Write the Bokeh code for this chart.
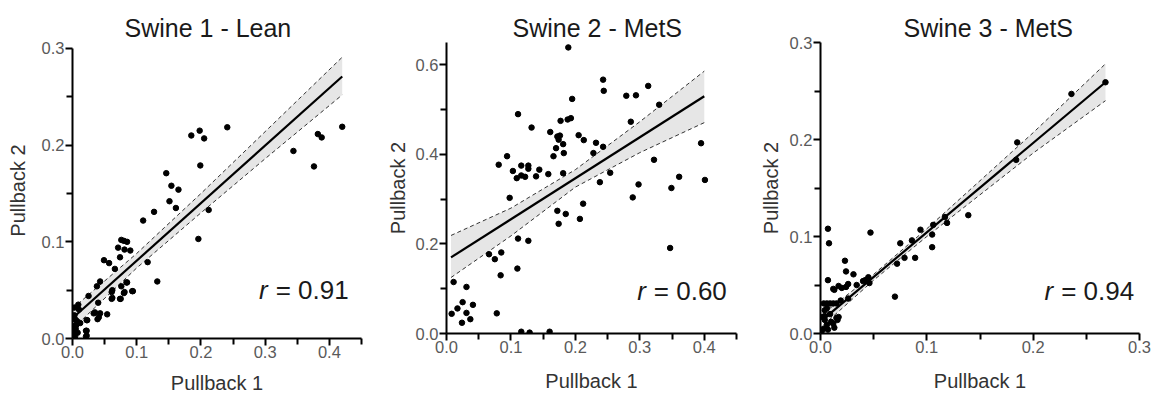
from bokeh.plotting import figure
from bokeh.layouts import row
from bokeh.models import Range1d, FixedTicker, PrintfTickFormatter, Label
from bokeh.embed import file_html
from bokeh.resources import INLINE

# ---------------- data ----------------
titles = ["Swine 1 - Lean", "Swine 2 - MetS", "Swine 3 - MetS"]
r_texts = ["= 0.91", "= 0.60", "= 0.94"]
x_label = "Pullback 1"
y_label = "Pullback 2"

s1_x = [0.420, 0.241, 0.185, 0.198, 0.205, 0.199, 0.146, 0.154, 0.165, 0.151, 0.161, 0.127,
        0.110, 0.212, 0.196, 0.344, 0.376, 0.382, 0.388, 0.132, 0.117, 0.076, 0.080, 0.085,
        0.071, 0.081, 0.090, 0.074, 0.049, 0.057, 0.066, 0.043, 0.038, 0.076, 0.084, 0.093,
        0.080, 0.061, 0.074, 0.061, 0.025, 0.040, 0.035, 0.043, 0.054, 0.041, 0.039, 0.022,
        0.009, 0.003, 0.012, 0.005, 0.008, 0.002, 0.004, 0.021, 0.021, 0.001, 0.007, 0.062,
        0.062, 0.075, 0.081, 0.094, 0.085, 0.033, 0.023, 0.022, 0.022, 0.010, 0.003, 0.006,
        0.002, 0.000, 0.004]
s1_y = [0.219, 0.2185, 0.210, 0.215, 0.207, 0.179, 0.171, 0.158, 0.154, 0.142, 0.135, 0.131,
        0.122, 0.133, 0.103, 0.194, 0.178, 0.2115, 0.208, 0.059, 0.079, 0.102, 0.101, 0.100,
        0.094, 0.092, 0.091, 0.084, 0.081, 0.078, 0.072, 0.059, 0.054, 0.054, 0.058, 0.049,
        0.047, 0.048, 0.041, 0.041, 0.044, 0.037, 0.027, 0.026, 0.025, 0.022, 0.020, 0.019,
        0.035, 0.032, 0.016, 0.010, 0.006, 0.004, 0.002, 0.008, 0.002, 0.013, 0.018, 0.050,
        0.042, 0.041, 0.048, 0.049, 0.058, 0.026, 0.019, 0.008, 0.003, 0.030, 0.024, 0.014,
        0.007, 0.011, 0.020]

s2_x = [0.189, 0.243, 0.244, 0.195, 0.279, 0.294, 0.313, 0.330, 0.111, 0.177, 0.188, 0.193,
        0.286, 0.132, 0.161, 0.205, 0.213, 0.172, 0.176, 0.174, 0.181, 0.232, 0.170, 0.182,
        0.228, 0.243, 0.166, 0.094, 0.081, 0.116, 0.127, 0.127, 0.103, 0.144, 0.109, 0.116,
        0.122, 0.139, 0.158, 0.181, 0.098, 0.322, 0.254, 0.238, 0.298, 0.361, 0.395, 0.401,
        0.349, 0.289, 0.212, 0.172, 0.185, 0.174, 0.207, 0.347, 0.111, 0.127, 0.066, 0.075,
        0.085, 0.110, 0.084, 0.011, 0.031, 0.025, 0.017, 0.008, 0.041, 0.031, 0.037, 0.024,
        0.078, 0.116, 0.129, 0.160]
s2_y = [0.639, 0.567, 0.542, 0.524, 0.531, 0.532, 0.553, 0.511, 0.490, 0.475, 0.478, 0.481,
        0.473, 0.460, 0.450, 0.443, 0.432, 0.440, 0.442, 0.433, 0.423, 0.426, 0.414, 0.403,
        0.403, 0.417, 0.396, 0.396, 0.377, 0.375, 0.375, 0.368, 0.363, 0.366, 0.347, 0.353,
        0.350, 0.351, 0.356, 0.358, 0.303, 0.388, 0.359, 0.338, 0.333, 0.350, 0.425, 0.343,
        0.325, 0.304, 0.290, 0.274, 0.267, 0.245, 0.256, 0.191, 0.212, 0.207, 0.177, 0.166,
        0.181, 0.145, 0.130, 0.115, 0.104, 0.070, 0.056, 0.044, 0.064, 0.046, 0.032, 0.024,
        0.045, 0.004, 0.002, 0.004]

s3_x = [0.268, 0.236, 0.185, 0.184, 0.139, 0.119, 0.117, 0.106, 0.105, 0.105, 0.094, 0.086,
        0.089, 0.075, 0.079, 0.072, 0.070, 0.047, 0.007, 0.008, 0.007, 0.023, 0.024, 0.031,
        0.026, 0.034, 0.040, 0.045, 0.042, 0.046, 0.013, 0.017, 0.020, 0.024, 0.012, 0.026,
        0.019, 0.003, 0.006, 0.009, 0.012, 0.015, 0.004, 0.006, 0.002, 0.004, 0.006, 0.003,
        0.001, 0.007, 0.010, 0.012, 0.015, 0.017, 0.013, 0.009, 0.004, 0.016]
s3_y = [0.259, 0.247, 0.197, 0.179, 0.122, 0.114, 0.120, 0.112, 0.102, 0.089, 0.107, 0.096,
        0.078, 0.093, 0.078, 0.072, 0.038, 0.104, 0.108, 0.093, 0.055, 0.075, 0.064, 0.061,
        0.051, 0.050, 0.054, 0.058, 0.055, 0.052, 0.045, 0.049, 0.047, 0.048, 0.046, 0.036,
        0.034, 0.031, 0.031, 0.031, 0.031, 0.031, 0.024, 0.026, 0.017, 0.014, 0.009, 0.005,
        0.002, 0.004, 0.012, 0.010, 0.016, 0.017, 0.006, 0.020, 0.018, 0.014]

# regression lines and 95% bands
s1_fit_x = [0.0, 0.42]
s1_fit_y = [0.021, 0.271]
s1_ci_x = [0.0, 0.1, 0.2, 0.3, 0.42]
s1_ci_lo = [0.010, 0.073, 0.130, 0.186, 0.252]
s1_ci_hi = [0.031, 0.088, 0.150, 0.214, 0.291]

s2_fit_x = [0.007, 0.40]
s2_fit_y = [0.170, 0.530]
s2_ci_x = [0.007, 0.1, 0.2, 0.3, 0.40]
s2_ci_lo = [0.125, 0.218, 0.327, 0.404, 0.471]
s2_ci_hi = [0.219, 0.280, 0.366, 0.473, 0.586]

s3_fit_x = [0.003, 0.268]
s3_fit_y = [0.015, 0.259]
s3_ci_x = [0.003, 0.05, 0.1, 0.2, 0.268]
s3_ci_lo = [0.009, 0.055, 0.100, 0.186, 0.240]
s3_ci_hi = [0.021, 0.061, 0.108, 0.207, 0.278]

# axis settings per panel
x_ends = [0.45, 0.45, 0.30]
y_ends = [0.3062, 0.65, 0.30]     # panel 1 frame starts a little above its 0.3 tick
y_axis_top = [0.30, 0.65, 0.30]
x_major = [[0.0, 0.1, 0.2, 0.3, 0.4], [0.0, 0.1, 0.2, 0.3, 0.4], [0.0, 0.1, 0.2, 0.3]]
x_minor = [[0.05, 0.15, 0.25, 0.35, 0.45], [0.05, 0.15, 0.25, 0.35, 0.45], [0.05, 0.15, 0.25]]
y_major = [[0.0, 0.1, 0.2, 0.3], [0.0, 0.2, 0.4, 0.6], [0.0, 0.1, 0.2, 0.3]]
y_minor = [[0.05, 0.15, 0.25], [0.1, 0.3, 0.5], [0.05, 0.15, 0.25]]
r_pos = [(0.43, 0.05), (0.435, 0.096), (0.295, 0.044)]

FONT = "Liberation Sans"

# layout geometry (pixels)
geo = [
    dict(fw=289, fh=296, left=72, right=19, top=42, bottom=58, ylab_std=10, xlab_std=11,
         title_off=52),
    dict(fw=290, fh=291, left=66, right=20, top=42, bottom=63, ylab_std=4, xlab_std=14,
         title_off=66),
    dict(fw=319, fh=291, left=64, right=13, top=42, bottom=63, ylab_std=5, xlab_std=14,
         title_off=83),
]

panels = [
    (s1_x, s1_y, s1_fit_x, s1_fit_y, s1_ci_x, s1_ci_lo, s1_ci_hi),
    (s2_x, s2_y, s2_fit_x, s2_fit_y, s2_ci_x, s2_ci_lo, s2_ci_hi),
    (s3_x, s3_y, s3_fit_x, s3_fit_y, s3_ci_x, s3_ci_lo, s3_ci_hi),
]

figs = []
for i, (xs, ys, fx, fy, cx, clo, chi) in enumerate(panels):
    g = geo[i]
    p = figure(frame_width=g["fw"], frame_height=g["fh"], output_backend="svg", toolbar_location=None,
               x_range=Range1d(0, x_ends[i]), y_range=Range1d(0, y_ends[i]),
               min_border_left=g["left"], min_border_right=g["right"],
               min_border_top=g["top"], min_border_bottom=g["bottom"])
    p.title.text = titles[i]
    p.title.align = "left"
    p.title.offset = g["title_off"]
    p.title.text_font = FONT
    p.title.text_font_size = "25px"
    p.title.text_font_style = "normal"
    p.title.text_color = "#1a1a1a"
    p.title.standoff = 1
    p.outline_line_color = None
    p.grid.visible = False
    p.background_fill_color = "white"
    p.border_fill_color = "white"

    for k, (ax, major, minor, lab) in enumerate([(p.xaxis[0], x_major[i], x_minor[i], x_label),
                                                 (p.yaxis[0], y_major[i], y_minor[i], y_label)]):
        ax.ticker = FixedTicker(ticks=major, minor_ticks=minor)
        ax.formatter = PrintfTickFormatter(format="%.1f")
        ax.axis_line_width = 2
        ax.axis_line_color = "black"
        ax.major_tick_line_width = 2
        ax.major_tick_line_color = "black"
        ax.minor_tick_line_width = 2
        ax.minor_tick_line_color = "black"
        ax.major_tick_in = 0
        ax.major_tick_out = 7
        ax.minor_tick_in = 0
        ax.minor_tick_out = 6
        ax.major_label_text_font = FONT
        ax.major_label_text_font_size = "16.5px"
        ax.major_label_text_color = "#5a5a5a"
        ax.major_label_standoff = 1 if k == 1 else 0
        ax.axis_label = lab
        ax.axis_label_text_font = FONT
        ax.axis_label_text_font_size = "20px"
        ax.axis_label_text_font_style = "normal"
        ax.axis_label_text_color = "#333333"
        ax.axis_label_standoff = g["ylab_std"] if k == 1 else g["xlab_std"]
    p.yaxis[0].bounds = (0, y_axis_top[i])

    p.varea(x=cx, y1=clo, y2=chi, fill_color="#e6e6e6")
    p.line(cx, clo, line_color="#333333", line_width=1, line_dash="4 3")
    p.line(cx, chi, line_color="#333333", line_width=1, line_dash="4 3")
    p.line(fx, fy, line_color="black", line_width=2.2)
    p.scatter(xs, ys, size=5.5, color="black")

    rx, ry = r_pos[i]
    p.add_layout(Label(x=rx, y=ry, text=r_texts[i], text_align="right", text_baseline="middle",
                       text_font=FONT, text_font_size="26px", text_color="#1a1a1a"))
    p.add_layout(Label(x=rx, y=ry, x_offset=-81, text="r", text_align="right",
                       text_baseline="middle", text_font=FONT, text_font_size="26px",
                       text_font_style="italic", text_color="#1a1a1a"))
    figs.append(p)

layout = row(*figs, spacing=0)
open("out.html", "w").write(file_html(layout, INLINE))
